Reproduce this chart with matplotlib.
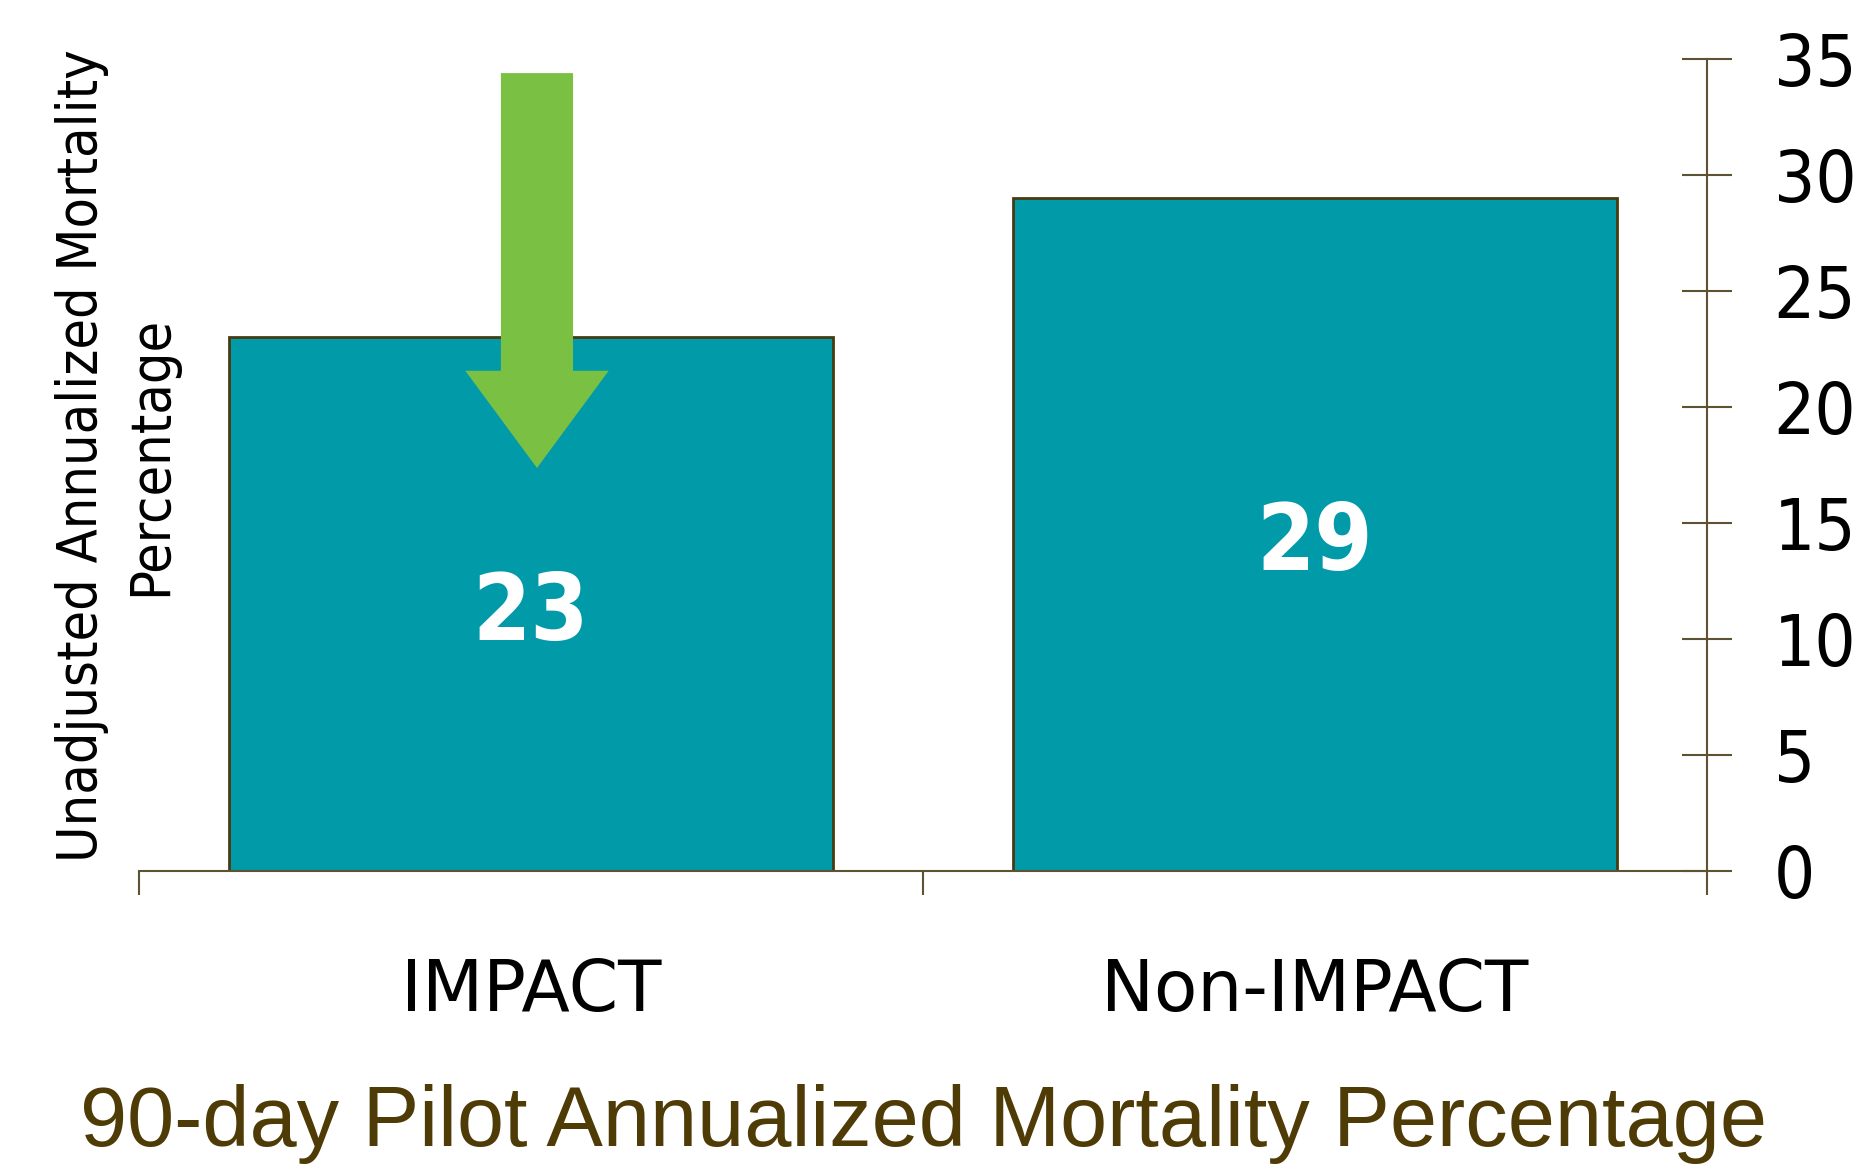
import matplotlib
matplotlib.use("Agg")
import matplotlib.pyplot as plt
from matplotlib.patches import FancyArrow

categories = ["IMPACT", "Non-IMPACT"]
values = [23, 29]
value_labels = ["23", "29"]
yticks = [0, 5, 10, 15, 20, 25, 30, 35]
ylabel = "Unadjusted Annualized Mortality\nPercentage"
title = "90-day Pilot Annualized Mortality Percentage"

BAR_COLOR = "#019AA9"
EDGE_COLOR = "#4A3A10"
AXIS_COLOR = "#5E5235"
TITLE_COLOR = "#4E3B06"
ARROW_COLOR = "#7AC143"

COND = dict(family="DejaVu Sans", stretch="condensed")

fig = plt.figure(figsize=(18.59, 11.65), dpi=100)
ax = fig.add_axes([0.0748, 0.2524, 0.9182 - 0.0748, 0.9494 - 0.2524])

x = list(range(len(categories)))
ax.bar(x, values, width=0.77, color=BAR_COLOR, edgecolor=EDGE_COLOR, linewidth=2, zorder=2)

for xi, v, lab in zip(x, values, value_labels):
    ax.text(xi, v / 2, lab, ha="center", va="center_baseline", color="white",
            fontsize=67, fontweight="bold", zorder=4, **COND)

# green arrow over IMPACT bar
ax.add_patch(FancyArrow(0.0076, 34.39, 0, -17.02, width=0.092, head_width=0.183,
                        head_length=4.19, length_includes_head=True,
                        color=ARROW_COLOR, linewidth=0, zorder=3))

ax.set_xlim(-0.5, 1.5)
ax.set_ylim(0, 35)

for s in ["left", "top"]:
    ax.spines[s].set_visible(False)
for s in ["right", "bottom"]:
    ax.spines[s].set_color(AXIS_COLOR)
    ax.spines[s].set_linewidth(1.5)

ax.yaxis.tick_right()
ax.set_yticks(yticks)
ax.set_yticklabels([str(t) for t in yticks], fontsize=52, **COND)
ax.tick_params(axis="y", direction="inout", length=36, width=1.5, color=AXIS_COLOR, pad=30)

ax.set_xticks([-0.5, 0.5, 1.5])
ax.set_xticklabels([])
ax.set_xticks(x, minor=True)
ax.set_xticklabels(categories, minor=True, fontsize=51, family="DejaVu Sans")
ax.tick_params(axis="x", which="major", direction="out", length=17, width=1.5, color=AXIS_COLOR)
ax.tick_params(axis="x", which="minor", length=0, pad=62)

fig.text(0.0627, 0.609, ylabel, rotation=90, ha="center", va="center",
         multialignment="center", fontsize=40, linespacing=1.35, **COND)

fig.text(0.4966, 0.0165, title, ha="center", va="baseline", fontsize=61,
         color=TITLE_COLOR, family="Liberation Sans")

fig.savefig("out.png", dpi=100)
